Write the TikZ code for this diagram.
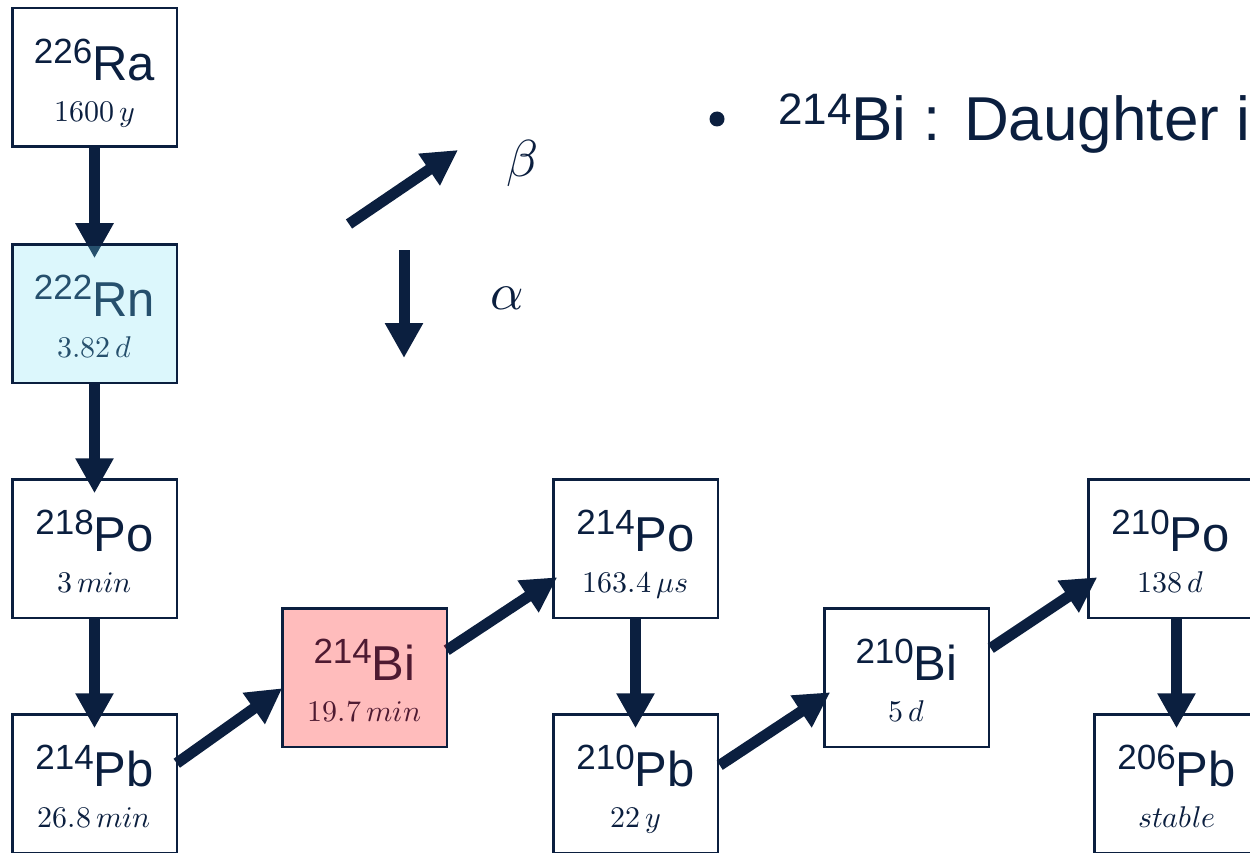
\documentclass[tikz,border=0pt]{standalone}
\usepackage{fontspec}
\usepackage{unicode-math}
\setmainfont{Liberation Sans}
\setmathfont{Latin Modern Math}
\usetikzlibrary{arrows.meta,calc}
\definecolor{navy}{HTML}{0B1F3F}
\definecolor{cyanov}{HTML}{77E3F7}
\definecolor{redov}{HTML}{FF1010}
\newcommand{\isolab}[2]{{\fontsize{35}{36}\selectfont\raisebox{17pt}{#1}}{\fontsize{49}{50}\selectfont #2}}
\newcommand{\halflife}[1]{{\fontsize{30}{31}\selectfont$#1$}}
\begin{document}
\begin{tikzpicture}[x=1pt,y=-1pt,
  nbox/.style={draw=navy,line width=2.5pt,fill=white,minimum width=164.5pt,minimum height=138.5pt,inner sep=0pt,outer sep=0pt,anchor=north west},
  lab/.style={anchor=base,inner sep=0pt,text=navy},
  decay/.style={line width=11pt,draw=navy,-{Triangle[width=36pt,length=35pt]}},
  greek/.style={inner sep=0pt,text=navy,font=\fontsize{52}{54}\selectfont}]
\clip (0,0) rectangle (1250,853);
\fill[white] (0,0) rectangle (1250,853);
% boxes
\node[nbox] (ra) at (12.25,8.25) {};
\node[nbox] (rn) at (12.25,244.25) {};
\node[nbox] (po218) at (12.25,479.25) {};
\node[nbox] (pb214) at (12.25,714.25) {};
\node[nbox] (bi214) at (282.25,608.25) {};
\node[nbox] (po214) at (553.25,479.25) {};
\node[nbox] (pb210) at (553.25,714.25) {};
\node[nbox] (bi210) at (824.25,608.25) {};
\node[nbox] (po210) at (1088.25,479.25) {};
\node[nbox] (pb206) at (1094.25,714.25) {};
% labels
\foreach \n/\m/\e/\h in {ra/226/Ra/{1600\,y}, rn/222/Rn/{3.82\,d}, po218/218/Po/{3\,min}, pb214/214/Pb/{26.8\,min}, bi214/214/Bi/{19.7\,min}, po214/214/Po/{163.4\,\mu s}, pb210/210/Pb/{22\,y}, bi210/210/Bi/{5\,d}, po210/210/Po/{138\,d}, pb206/206/Pb/{stable}}{
  \node[lab] (\n-l) at ($(\n.north)+(0,72)$) {\isolab{\m}{\e}};
  \node[lab] (\n-h) at ($(\n.north)+(0,113)$) {\halflife{\h}};
}
% alpha decays
\draw[decay] (ra.south) -- ($(rn.north)+(0,14)$);
\draw[decay] (rn.south) -- ($(po218.north)+(0,14)$);
\draw[decay] (po218.south) -- ($(pb214.north)+(0,14)$);
\draw[decay] (po214.south) -- ($(pb210.north)+(0,14)$);
\draw[decay] (po210.south -| pb206.north) -- ($(pb206.north)+(0,14)$);
% beta decays
\draw[decay] ($(pb214.north east)+(0,49)$) -- ($(bi214.north west)+(0,80)$);
\draw[decay] ($(bi214.north east)+(0,42)$) -- ($(po214.north west)+(4,98)$);
\draw[decay] ($(pb210.north east)+(2,51)$) -- ($(bi210.north west)+(6,84)$);
\draw[decay] ($(bi210.north east)+(2,40)$) -- ($(po210.north west)+(9,98)$);
% tinted boxes
\fill[cyanov,opacity=0.25] (rn.south west) rectangle (rn.north east);
\draw[navy,line width=2.5pt] (rn.south west) rectangle (rn.north east);
\fill[redov,opacity=0.28] (bi214.south west) rectangle (bi214.north east);
\draw[navy,line width=2.5pt] (bi214.south west) rectangle (bi214.north east);
% legend
\coordinate (b0) at (349,224);
\coordinate (b1) at (458,150);
\coordinate (a0) at (404,250);
\coordinate (a1) at (404,358);
\draw[decay] (b0) -- (b1);
\draw[decay] (a0) -- (a1);
\node[greek] (beta) at (522,163) {$\beta$};
\node[greek] (alpha) at (507,298) {$\alpha$};
% bullet text
\node[circle,fill=navy,minimum size=15pt,inner sep=0pt] (bullet) at (717,119) {};
\node[anchor=base west,inner sep=0pt,text=navy] (tline) at (778,141)
  {{\fontsize{44}{46}\selectfont\raisebox{16pt}{214}}{\fontsize{62}{64}\selectfont Bi : Daughter in}};
\end{tikzpicture}
\end{document}
